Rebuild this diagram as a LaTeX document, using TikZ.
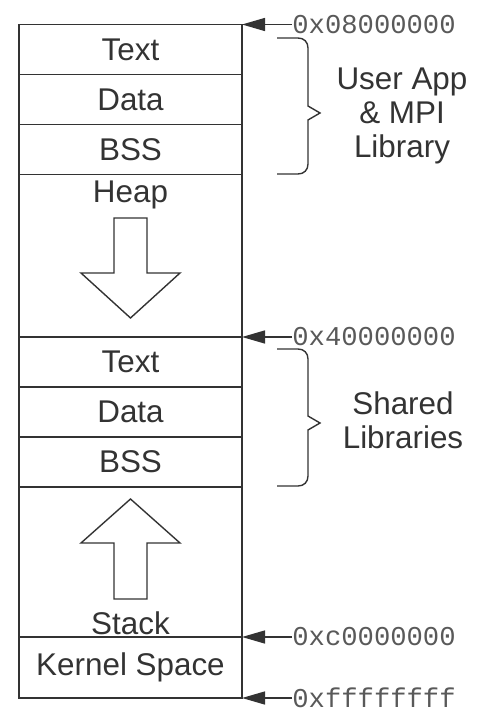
\documentclass[tikz,border=0pt]{standalone}
\usepackage{fontspec}
\setmainfont{Liberation Sans}
\setmonofont{Liberation Mono}
\usetikzlibrary{positioning,arrows.meta}

\begin{document}
\begin{tikzpicture}[x=0.5pt, y=-0.5pt]
    % Define styles
    \tikzstyle{seg} = [rectangle, draw=black!80, line width=0.7pt, minimum width=111.5pt, minimum height=25pt, inner sep=0pt, outer sep=0pt, text=black!80, font=\fontsize{15.7}{17}\selectfont]
    \tikzstyle{lbl} = [text=black!80, inner sep=0pt, font=\fontsize{15.7}{17}\selectfont]
    \tikzstyle{addr} = [anchor=west, inner sep=0pt, text=black!65, font=\fontsize{13.6}{15}\ttfamily]
    \tikzstyle{ptr} = [draw=black!80, line width=0.7pt, -{Triangle[length=11.5pt,width=6.5pt]}]
    \tikzstyle{growarrow} = [draw=black!80, line width=0.7pt, fill=white]
    \tikzstyle{brace} = [draw=black!80, line width=0.7pt]

    \useasboundingbox (0,0) rectangle (476,711);

    % Memory segments, top to bottom
    \node[seg] (utext) at (130.5,49.5) {Text};
    \node[seg, below=0pt of utext] (udata) {Data};
    \node[seg, below=0pt of udata] (ubss) {BSS};
    \node[seg, below=0pt of ubss, minimum height=81.25pt] (heap) {};
    \node[seg, below=0pt of heap] (stext) {Text};
    \node[seg, below=0pt of stext] (sdata) {Data};
    \node[seg, below=0pt of sdata] (sbss) {BSS};
    \node[seg, below=0pt of sbss, minimum height=75pt] (stack) {};
    \node[seg, below=0pt of stack, minimum height=30.5pt] (kernel) {Kernel Space};

    % Heap and stack
    \node[lbl, anchor=base] (heaplbl) at (130.5,203) {Heap};
    \node[lbl, anchor=base] (stacklbl) at (130.5,634) {Stack};
    \draw[growarrow] (114,218) -- (147,218) -- (147,273) -- (180,273) -- (130.5,318) -- (81,273) -- (114,273) -- cycle;
    \draw[growarrow] (114,599) -- (147,599) -- (147,543) -- (180,543) -- (130.5,499) -- (81,543) -- (114,543) -- cycle;

    % Addresses
    \node[addr] (a0) at (292,24.5) {0x08000000};
    \node[addr] (a1) at (292,337) {0x40000000};
    \node[addr] (a2) at (292,637) {0xc0000000};
    \node[addr] (a3) at (292,698) {0xffffffff};
    \draw[ptr] (a0.west) -- (utext.north east);
    \draw[ptr] (a1.west) -- (stext.north east);
    \draw[ptr] (a2.west) -- (kernel.north east);
    \draw[ptr] (a3.west) -- (kernel.south east);

    % Braces
    \draw[brace] (277,38) -- (298,38) .. controls (304,38) and (308,42) .. (308,48) -- (308,106) -- (320,113) -- (308,120) -- (308,164) .. controls (308,170) and (304,174) .. (298,174) -- (277,174);
    \draw[brace] (277,349) -- (298,349) .. controls (304,349) and (308,353) .. (308,359) -- (308,416) -- (320,423) -- (308,430) -- (308,476) .. controls (308,482) and (304,486) .. (298,486) -- (277,486);

    \node[lbl, align=center] (userlbl) at (402,116) {User App\\\& MPI\\Library};
    \node[lbl, align=center] (sharedlbl) at (403,420) {Shared\\Libraries};
\end{tikzpicture}
\end{document}
